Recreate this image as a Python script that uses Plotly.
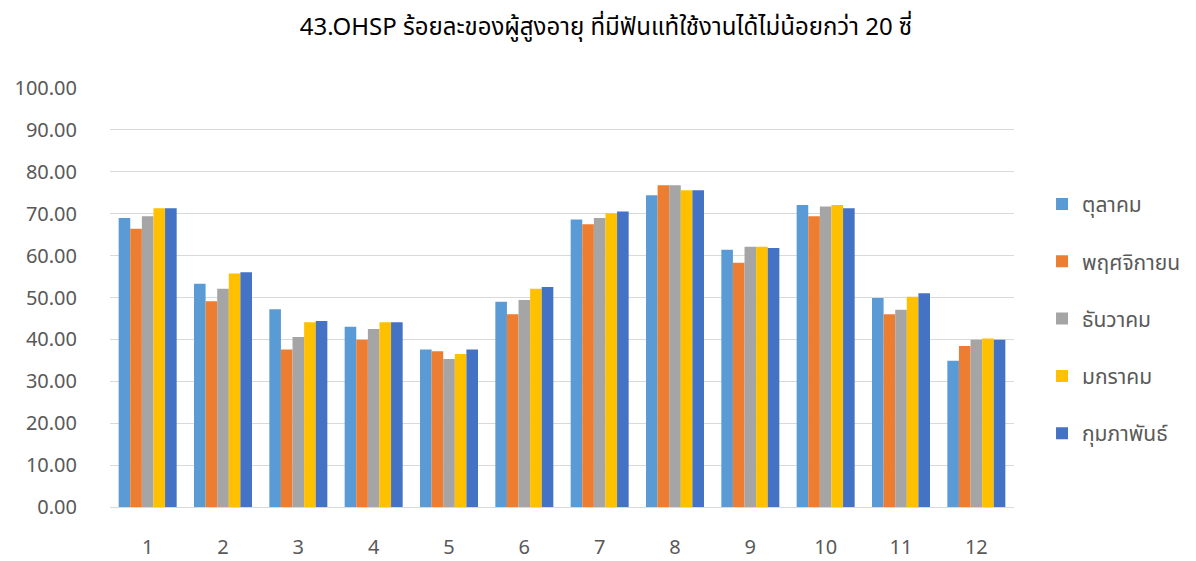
import plotly.graph_objects as go

# Categories (x axis) and monthly series
categories = ["1", "2", "3", "4", "5", "6", "7", "8", "9", "10", "11", "12"]
series_names = ["ตุลาคม", "พฤศจิกายน", "ธันวาคม", "มกราคม", "กุมภาพันธ์"]

oct_vals = [69.0, 53.3, 47.2, 43.0, 37.6, 49.0, 68.6, 74.4, 61.4, 72.1, 49.9, 34.9]
nov_vals = [66.4, 49.1, 37.6, 39.9, 37.2, 46.0, 67.5, 76.8, 58.3, 69.4, 46.0, 38.4]
dec_vals = [69.4, 52.1, 40.6, 42.5, 35.3, 49.4, 69.0, 76.8, 62.1, 71.7, 47.1, 39.9]
jan_vals = [71.3, 55.7, 44.1, 44.1, 36.5, 52.1, 70.1, 75.6, 62.1, 72.1, 50.2, 40.2]
feb_vals = [71.3, 56.0, 44.4, 44.1, 37.6, 52.5, 70.5, 75.6, 61.8, 71.3, 51.0, 39.9]

colors = ["#5B9BD5", "#ED7D31", "#A5A5A5", "#FFC000", "#4472C4"]
all_vals = [oct_vals, nov_vals, dec_vals, jan_vals, feb_vals]

fig = go.Figure()
for name, vals, col in zip(series_names, all_vals, colors):
    fig.add_trace(go.Bar(
        x=categories, y=vals, name=name, legendgroup=name,
        marker=dict(color=col, line=dict(width=0)),
    ))

font_family = "Noto Sans, Noto Sans Thai, Tahoma, sans-serif"

# the page body has an 8px margin, so offsets are shifted by 8
fig.update_layout(
    width=1196, height=561,
    paper_bgcolor="white", plot_bgcolor="white",
    barmode="group", bargap=0.23, bargroupgap=0,
    margin=dict(l=102, r=190, t=80, b=62),
    font=dict(family=font_family, color="#595959", size=20),
    title=dict(
        text="43.OHSP ร้อยละของผู้สูงอายุ ที่มีฟันแท้ใช้งานได้ไม่น้อยกว่า 20 ซี่",
        x=0.5, xanchor="center", y=0.966, yanchor="middle",
        font=dict(size=24, color="#000000"),
    ),
    xaxis=dict(showgrid=False, showline=False, ticks="", tickfont=dict(size=20),
               ticklabelstandoff=26, automargin=False),
    yaxis=dict(
        range=[0, 100], dtick=10, tickformat=".2f",
        showgrid=True, gridcolor="#D9D9D9", gridwidth=1,
        zeroline=True, zerolinecolor="#D9D9D9", zerolinewidth=1,
        showline=False, ticks="", ticklabelstandoff=32, automargin=False,
        tickfont=dict(size=20),
    ),
    legend=dict(
        x=1.031, xanchor="left", y=0.449, yanchor="middle",
        font=dict(size=21, color="#595959"),
        tracegroupgap=27,
    ),
)

fig.write_html("out.html")
